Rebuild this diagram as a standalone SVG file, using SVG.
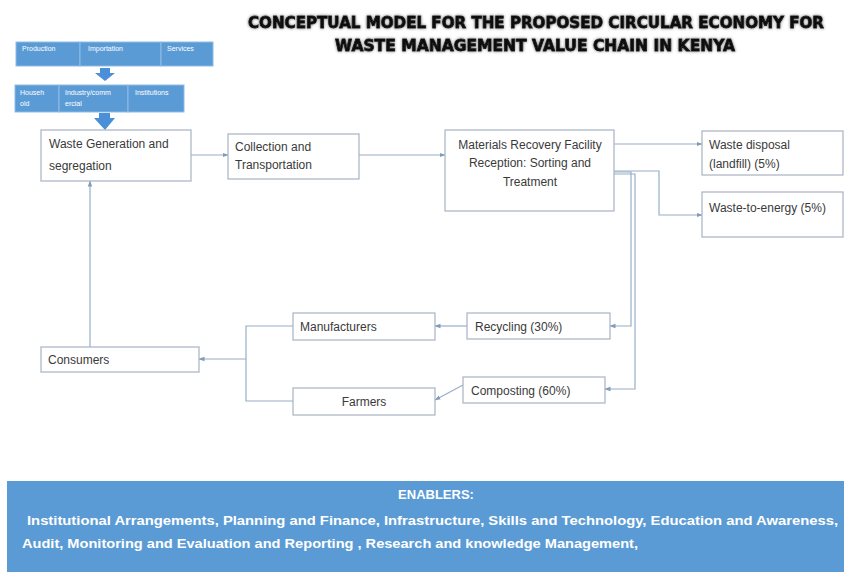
<svg xmlns="http://www.w3.org/2000/svg" width="844" height="572" viewBox="0 0 844 572">
  <defs>
    <marker id="arr" viewBox="0 0 6 6" refX="5.5" refY="3" markerWidth="6" markerHeight="6" orient="auto" markerUnits="userSpaceOnUse">
      <path d="M0,0.8 L6,3 L0,5.2 Z" fill="#7f9cbc"/>
    </marker>
    <filter id="glow" x="-5%" y="-30%" width="110%" height="160%">
      <feGaussianBlur in="SourceAlpha" stdDeviation="1.6" result="b"/>
      <feFlood flood-color="#777"/>
      <feComposite in2="b" operator="in" result="s"/>
      <feMerge><feMergeNode in="s"/><feMergeNode in="SourceGraphic"/></feMerge>
    </filter>
    <style>
      .box { fill: #ffffff; stroke: #a7b3c2; stroke-width: 1.2; }
      .lbl { font-family: "Liberation Sans", Arial, sans-serif; font-size: 12px; fill: #3a3a3a; }
      .blue { fill: #5b9bd5; stroke: #8fbbe6; stroke-width: 1; }
      .tiny { font-family: "Liberation Sans", Arial, sans-serif; font-size: 7px; fill: #ffffff; }
      .con { fill: none; stroke: #98aec6; stroke-width: 1.2; }
      .blk { fill: #4a8fd8; }
      .title { font-family: "DejaVu Sans", sans-serif; font-weight: bold; font-size: 15px; fill: #111; stroke: #111; stroke-width: 0.8; }
      .en { font-family: "Liberation Sans", Arial, sans-serif; font-weight: bold; fill: #ffffff; }
    </style>
  </defs>

  <rect width="844" height="572" fill="#ffffff"/>

  <!-- heading -->
  <g id="title" filter="url(#glow)">
    <text class="title" x="248" y="28" textLength="576" lengthAdjust="spacingAndGlyphs">CONCEPTUAL MODEL FOR THE PROPOSED CIRCULAR ECONOMY FOR</text>
    <text class="title" x="335" y="51" textLength="400" lengthAdjust="spacingAndGlyphs">WASTE MANAGEMENT  VALUE CHAIN IN KENYA</text>
  </g>

  <!-- sources strip -->
  <g id="sources">
    <rect class="blue" x="16" y="42" width="64" height="24"/>
    <rect class="blue" x="80" y="42" width="81" height="24"/>
    <rect class="blue" x="161" y="42" width="52" height="24"/>
    <text class="tiny" x="22" y="51">Production</text>
    <text class="tiny" x="88" y="51">Importation</text>
    <text class="tiny" x="167" y="51">Services</text>
  </g>
  <polygon id="down1" class="blk" points="100,68 110,68 110,73 115,73 105,81 95,73 100,73"/>

  <!-- generators strip -->
  <g id="generators">
    <rect class="blue" x="15" y="85" width="44" height="27"/>
    <rect class="blue" x="59" y="85" width="69" height="27"/>
    <rect class="blue" x="128" y="85" width="56" height="27"/>
    <text class="tiny" x="20" y="95">Househ</text>
    <text class="tiny" x="20" y="106">old</text>
    <text class="tiny" x="65" y="95">Industry/comm</text>
    <text class="tiny" x="65" y="106">ercial</text>
    <text class="tiny" x="135" y="95">Institutions</text>
  </g>
  <polygon id="down2" class="blk" points="99,113 110,113 110,118 115,118 105,130 94,118 99,118"/>

  <!-- connectors -->
  <g id="connectors">
    <line class="con" x1="191" y1="155" x2="228" y2="155" marker-end="url(#arr)"/>
    <line class="con" x1="359" y1="155" x2="445" y2="155" marker-end="url(#arr)"/>
    <line class="con" x1="614" y1="144" x2="702" y2="144" marker-end="url(#arr)"/>
    <polyline class="con" points="614,171 659,171 659,215 702,215" marker-end="url(#arr)"/>
    <polyline class="con" points="604,172 631,172 631,326 610,326" marker-end="url(#arr)"/>
    <polyline class="con" points="604,174 635,174 635,389 605,389" marker-end="url(#arr)"/>
    <line class="con" x1="467" y1="326" x2="435" y2="326" marker-end="url(#arr)"/>
    <line class="con" x1="463" y1="385" x2="435" y2="400" marker-end="url(#arr)"/>
    <polyline class="con" points="293,326 246,326 246,401 293,401"/>
    <line class="con" x1="246" y1="359" x2="199" y2="359" marker-end="url(#arr)"/>
    <line class="con" x1="90" y1="347" x2="90" y2="181" marker-end="url(#arr)"/>
  </g>

  <!-- process nodes -->
  <g id="waste-generation">
    <rect class="box" x="41" y="130" width="150" height="51"/>
    <text class="lbl" x="49" y="148">Waste Generation and</text>
    <text class="lbl" x="49" y="170">segregation</text>
  </g>
  <g id="collection">
    <rect class="box" x="228" y="134" width="131" height="45"/>
    <text class="lbl" x="235" y="151">Collection and</text>
    <text class="lbl" x="235" y="169">Transportation</text>
  </g>
  <g id="mrf">
    <rect class="box" x="445" y="130" width="169" height="81"/>
    <text class="lbl" x="530" y="149" text-anchor="middle">Materials  Recovery Facility</text>
    <text class="lbl" x="530" y="167" text-anchor="middle">Reception: Sorting  and</text>
    <text class="lbl" x="530" y="186" text-anchor="middle">Treatment</text>
  </g>
  <g id="landfill">
    <rect class="box" x="702" y="131" width="141" height="44"/>
    <text class="lbl" x="709" y="149">Waste disposal</text>
    <text class="lbl" x="709" y="168">(landfill) (5%)</text>
  </g>
  <g id="waste-to-energy">
    <rect class="box" x="702" y="192" width="141" height="45"/>
    <text class="lbl" x="709" y="212">Waste-to-energy (5%)</text>
  </g>
  <g id="recycling">
    <rect class="box" x="467" y="313" width="143" height="26"/>
    <text class="lbl" x="475" y="331">Recycling (30%)</text>
  </g>
  <g id="composting">
    <rect class="box" x="463" y="377" width="142" height="26"/>
    <text class="lbl" x="471" y="395">Composting (60%)</text>
  </g>
  <g id="manufacturers">
    <rect class="box" x="293" y="313" width="142" height="27"/>
    <text class="lbl" x="300" y="331">Manufacturers</text>
  </g>
  <g id="farmers">
    <rect class="box" x="293" y="388" width="142" height="27"/>
    <text class="lbl" x="364" y="406" text-anchor="middle">Farmers</text>
  </g>
  <g id="consumers">
    <rect class="box" x="41" y="347" width="158" height="25"/>
    <text class="lbl" x="48" y="364">Consumers</text>
  </g>

  <!-- enablers banner -->
  <g id="enablers">
    <rect x="7" y="481" width="837" height="91" fill="#5b9bd5"/>
    <text class="en" x="436" y="499" font-size="13" text-anchor="middle">ENABLERS:</text>
    <text class="en" x="27" y="525" font-size="13.5" textLength="811" lengthAdjust="spacingAndGlyphs">Institutional Arrangements, Planning and Finance,  Infrastructure, Skills and Technology, Education and Awareness,</text>
    <text class="en" x="22" y="548" font-size="13.5" textLength="616" lengthAdjust="spacingAndGlyphs">Audit, Monitoring and Evaluation  and Reporting , Research and knowledge Management,</text>
  </g>
</svg>
